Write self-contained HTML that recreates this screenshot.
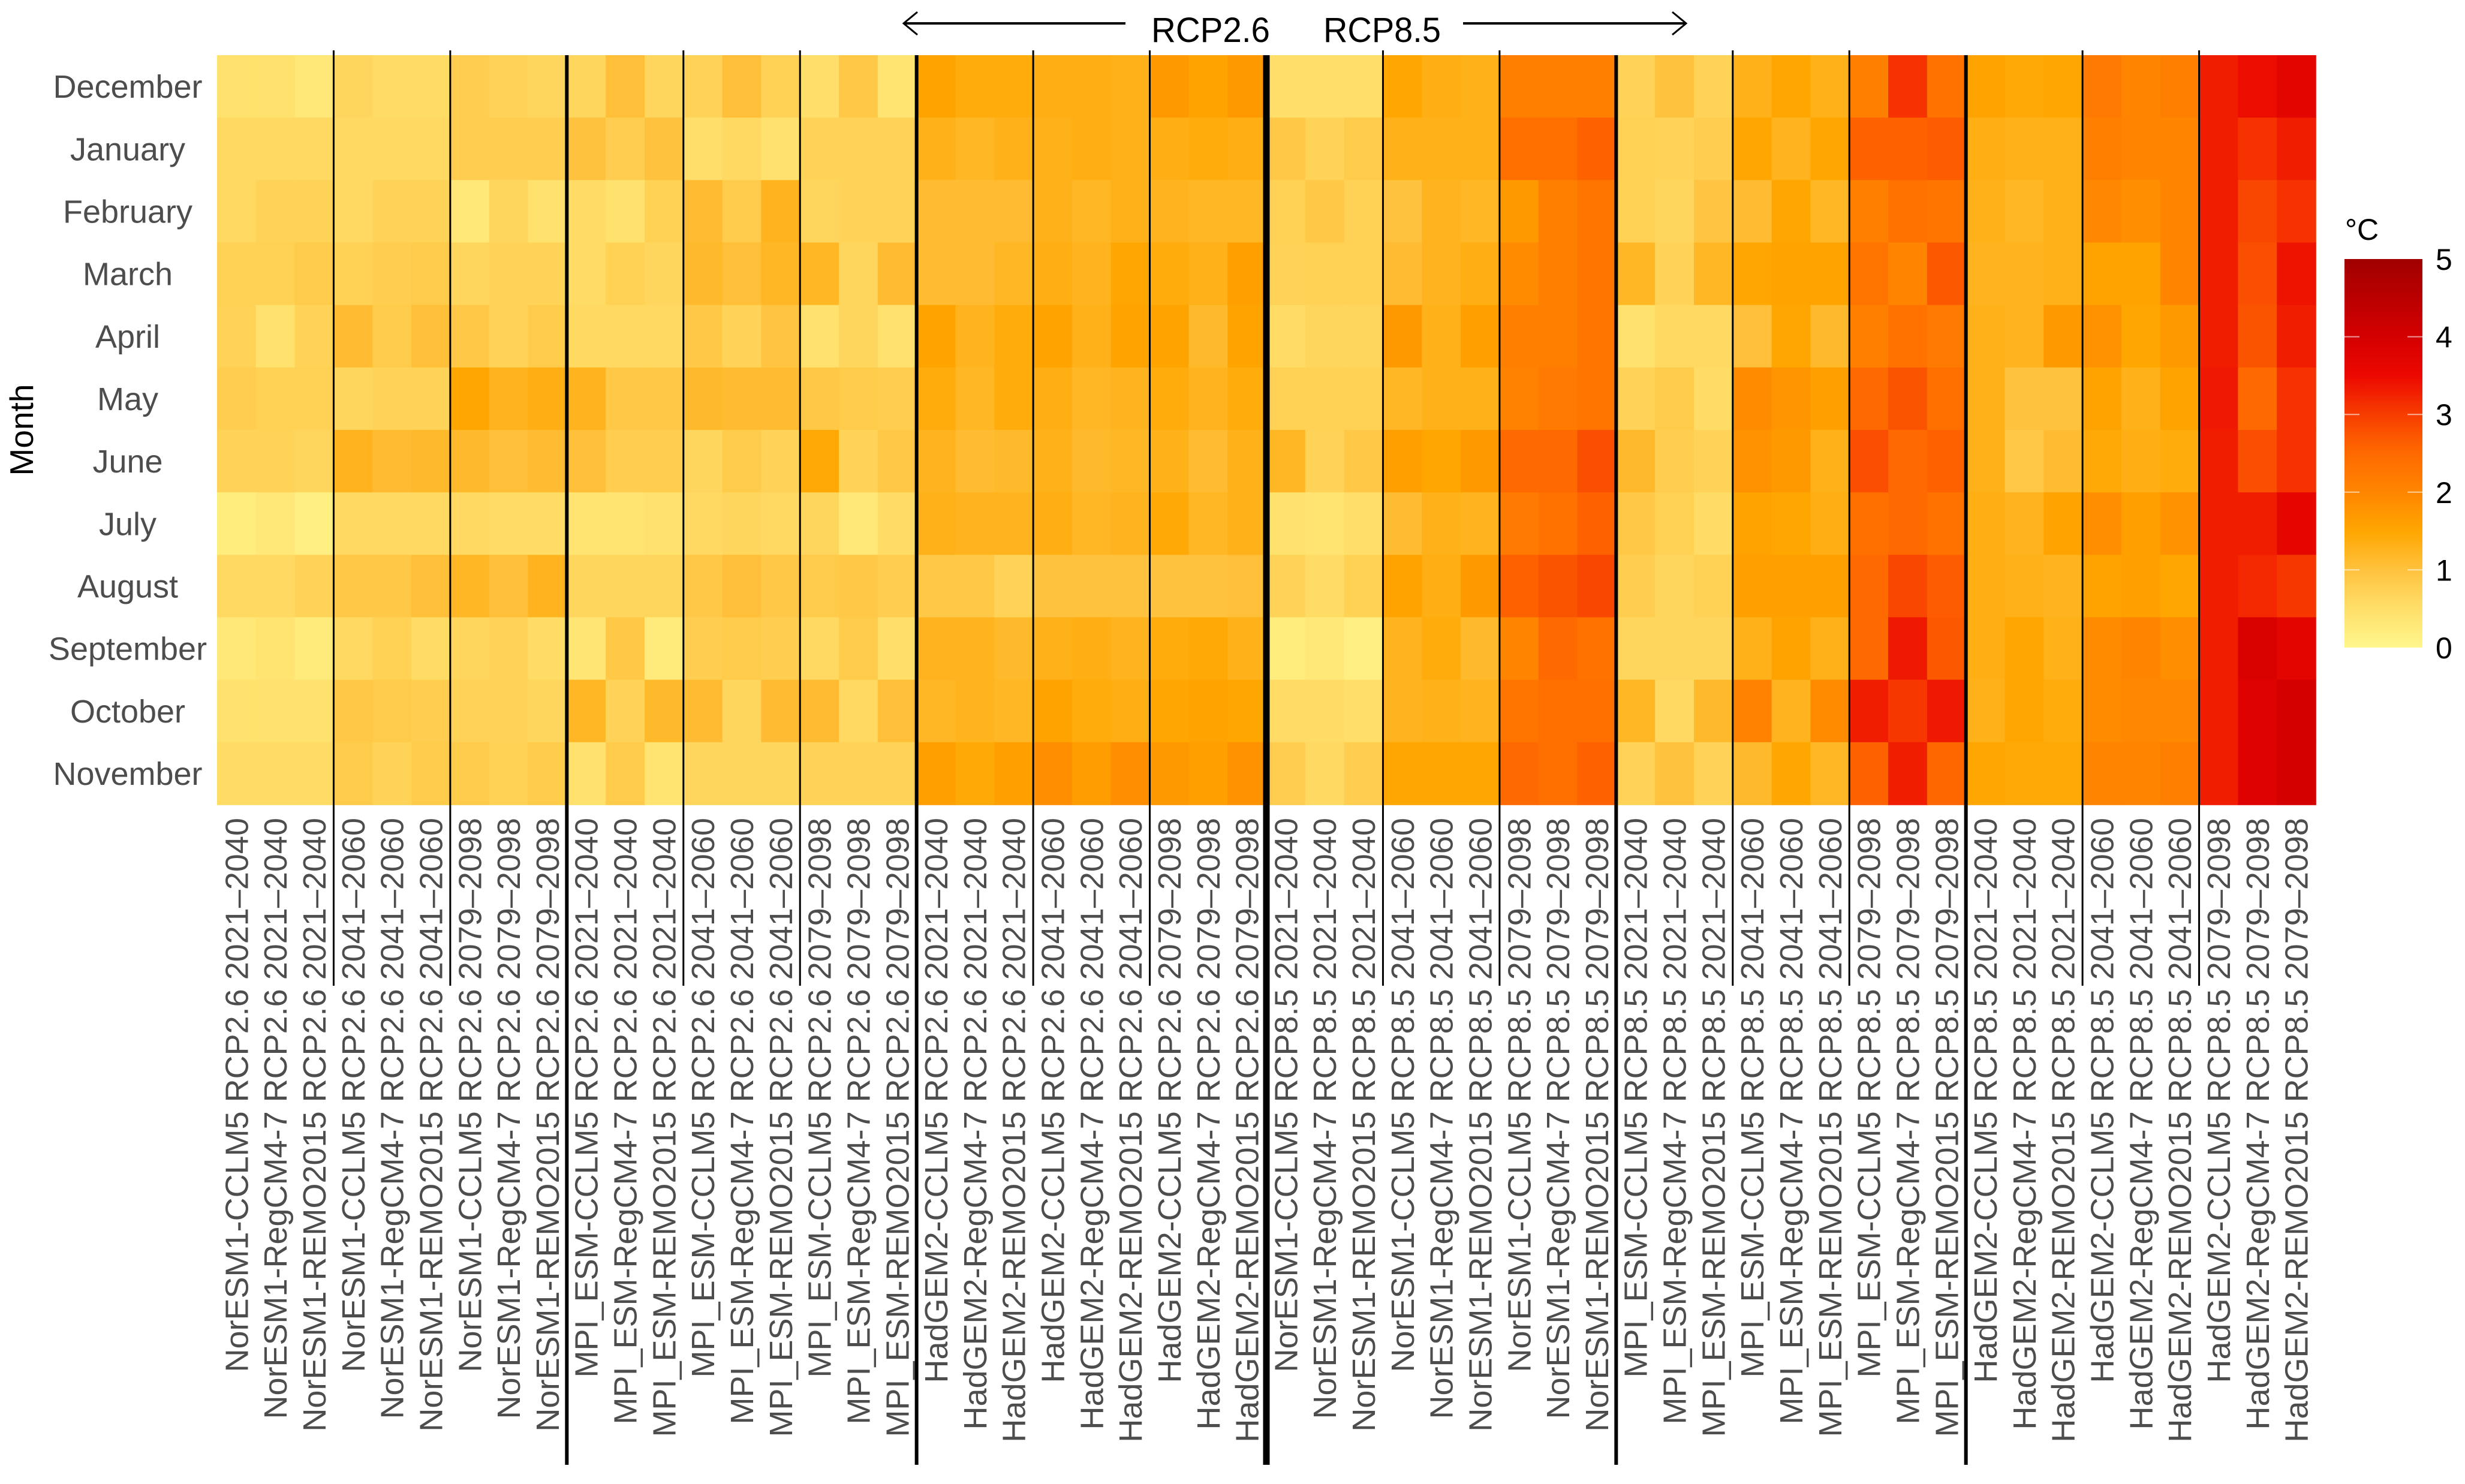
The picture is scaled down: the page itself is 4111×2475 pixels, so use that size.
<!DOCTYPE html>
<html><head><meta charset="utf-8">
<style>
html,body{margin:0;padding:0;background:#fff;}
svg{display:block;font-family:"Liberation Sans",sans-serif;}
</style></head>
<body>
<svg id="chart" width="4111" height="2475" viewBox="0 0 4111 2475" xmlns="http://www.w3.org/2000/svg">
<defs>
<linearGradient id="lg" x1="0" y1="1" x2="0" y2="0">
<stop offset="0" stop-color="#FFF68C"/><stop offset="0.1" stop-color="#FFDF6A"/><stop offset="0.2" stop-color="#FFC23E"/><stop offset="0.3" stop-color="#FFA600"/><stop offset="0.4" stop-color="#FF8500"/><stop offset="0.5" stop-color="#FF6A00"/><stop offset="0.6" stop-color="#F73D00"/><stop offset="0.7" stop-color="#EC0800"/><stop offset="0.8" stop-color="#D40000"/><stop offset="1" stop-color="#A00000"/>
</linearGradient>
</defs>
<g id="cells"></g>
<g id="lines"></g>
<g id="xlabels"></g>
<g id="ylabels"></g>
<text transform="translate(55,717) rotate(-90)" text-anchor="middle" font-size="55" fill="#000">Month</text>
<g>
<line x1="1507" y1="39" x2="1877" y2="39" stroke="#000" stroke-width="4"/>
<polyline points="1530,20 1507,39 1530,58" fill="none" stroke="#000" stroke-width="3"/>
<line x1="2440" y1="39" x2="2812" y2="39" stroke="#000" stroke-width="4"/>
<polyline points="2789,20 2812,39 2789,58" fill="none" stroke="#000" stroke-width="3"/>
<text x="1920" y="70" font-size="58" textLength="198" lengthAdjust="spacingAndGlyphs">RCP2.6</text>
<text x="2207" y="70" font-size="58" textLength="196" lengthAdjust="spacingAndGlyphs">RCP8.5</text>
</g>
<g>
<text x="3911" y="400" font-size="50" fill="#000">°C</text>
<rect x="3910" y="432" width="130" height="648" fill="url(#lg)"/>
<g id="legticks"></g>
</g>
</svg>
<script>
const months = ["December","January","February","March","April","May","June","July","August","September","October","November"];
const rcps = ["RCP2.6","RCP8.5"];
const gcms = ["NorESM1","MPI_ESM","HadGEM2"];
const periods = ["2021–2040","2041–2060","2079–2098"];
const rcms = ["CCLM5","RegCM4-7","REMO2015"];
const legendTicks = [0,1,2,3,4,5];

const decVals = [.45,.45,.3,.65,.55,.55,.8,.7,.65,.65,1.05,.65,.7,1.05,.75,.5,.9,.4,1.55,1.4,1.4,1.35,1.35,1.3,1.7,1.55,1.7, .5,.5,.5,1.5,1.35,1.3,2.1,2.1,2.1,.7,1.0,.7,1.3,1.5,1.3,2.1,3.1,2.35,1.55,1.45,1.5,2.2,2.0,2.1,3.3,3.45,3.7];
const janVals = [.6,.6,.6,.6,.6,.6,.8,.8,.8,1.0,.8,1.0,.5,.6,.45,.7,.7,.7,1.3,1.2,1.3,1.3,1.35,1.3,1.35,1.4,1.35, .9,.7,.85,1.3,1.3,1.3,2.4,2.4,2.6,.75,.7,.8,1.5,1.25,1.5,2.6,2.6,2.65,1.35,1.3,1.3,2.1,2.0,2.0,3.3,3.1,3.3];
const febVals = [.6,.7,.7,.6,.7,.7,.3,.65,.45,.55,.45,.75,1.1,.85,1.25,.65,.7,.7,1.1,1.1,1.1,1.3,1.2,1.3,1.25,1.2,1.2, .75,.9,.75,1.0,1.25,1.2,1.7,2.1,2.3,.75,.65,.95,1.1,1.5,1.2,2.1,2.35,2.3,1.3,1.2,1.3,1.95,1.85,2.0,3.3,2.9,3.1];
const marVals = [.75,.75,.85,.75,.8,.85,.65,.7,.7,.55,.75,.65,1.15,1.05,1.2,1.2,.65,1.1,1.1,1.1,1.2,1.35,1.25,1.5,1.4,1.3,1.6, .7,.75,.75,1.1,1.25,1.35,1.9,2.1,2.3,1.2,.7,1.2,1.5,1.55,1.55,2.3,2.0,2.7,1.25,1.25,1.3,1.55,1.55,2.0,3.3,2.8,3.4];
const aprVals = [.7,.45,.7,1.1,.85,1.05,.9,.7,.85,.6,.6,.6,.9,.7,.95,.45,.65,.45,1.55,1.25,1.4,1.55,1.3,1.55,1.55,1.15,1.55, .55,.65,.65,1.7,1.3,1.6,2.1,2.1,2.3,.45,.6,.6,1.05,1.5,1.15,2.1,2.35,2.2,1.3,1.25,1.7,1.8,1.5,1.7,3.3,2.75,3.3];
const mayVals = [.8,.75,.75,.65,.7,.7,1.5,1.25,1.35,1.25,.9,.9,1.15,1.1,1.1,.9,.85,.8,1.4,1.2,1.4,1.35,1.2,1.25,1.4,1.25,1.4, .75,.75,.75,1.2,1.3,1.3,2.05,2.2,2.3,.7,.85,.55,1.9,1.75,1.6,2.5,2.75,2.4,1.3,1.0,1.0,1.55,1.3,1.55,3.35,2.5,3.1];
const junVals = [.7,.7,.65,1.25,1.1,1.15,1.15,1.05,1.1,1.05,.8,.8,.65,.85,.7,1.45,.7,.9,1.25,1.1,1.15,1.3,1.15,1.2,1.3,1.1,1.3, 1.2,.7,.9,1.6,1.5,1.7,2.5,2.5,2.8,1.15,.8,.7,1.8,1.7,1.3,2.8,2.5,2.6,1.3,.9,1.1,1.45,1.35,1.4,3.3,2.8,3.1];
const julVals = [.2,.3,.15,.6,.6,.6,.6,.55,.55,.4,.4,.45,.6,.65,.6,.65,.3,.55,1.3,1.25,1.25,1.35,1.2,1.25,1.45,1.2,1.3, .45,.4,.5,1.1,1.3,1.25,2.2,2.35,2.6,.9,.75,.55,1.55,1.5,1.35,2.4,2.5,2.35,1.35,1.25,1.55,1.85,1.6,1.8,3.3,3.3,3.65];
const augVals = [.6,.6,.7,.9,.9,1.05,1.2,1.05,1.25,.65,.65,.65,.9,1.05,.9,.85,.9,.8,.9,.9,.7,1.0,1.0,1.0,1.0,1.0,1.05, .7,.55,.75,1.55,1.35,1.7,2.6,2.75,2.9,.8,.65,.75,1.6,1.6,1.6,2.5,2.9,2.65,1.35,1.3,1.25,1.55,1.6,1.5,3.3,3.2,3.05];
const sepVals = [.3,.4,.25,.6,.75,.55,.65,.7,.55,.35,.9,.25,.8,.85,.8,.6,.85,.5,1.25,1.25,1.15,1.3,1.35,1.25,1.4,1.45,1.3, .2,.3,.15,1.25,1.4,1.15,2.0,2.5,2.35,.65,.65,.65,1.3,1.55,1.3,2.5,3.35,2.7,1.35,1.5,1.3,1.9,2.0,1.85,3.3,3.9,3.7];
const octVals = [.45,.45,.45,.9,.85,.8,.7,.7,.65,1.2,.7,1.15,1.1,.65,1.1,1.1,.6,1.05,1.2,1.25,1.2,1.55,1.4,1.35,1.5,1.55,1.5, .55,.55,.5,1.25,1.3,1.25,2.3,2.4,2.4,1.2,.6,1.15,2.05,1.25,1.9,3.3,3.05,3.35,1.3,1.5,1.4,1.9,1.95,1.95,3.3,3.8,4.0];
const novVals = [.55,.55,.55,.85,.7,.85,.85,.75,.85,.45,.85,.4,.65,.65,.65,.7,.7,.7,1.6,1.45,1.6,1.85,1.65,1.85,1.7,1.6,1.8, .8,.6,.8,1.5,1.5,1.5,2.5,2.4,2.6,.7,1.0,.7,1.15,1.5,1.2,2.6,3.3,2.55,1.5,1.45,1.45,2.0,2.0,2.1,3.3,3.8,4.0];
const values = [decVals,janVals,febVals,marVals,aprVals,mayVals,junVals,julVals,augVals,sepVals,octVals,novVals];

const NS="http://www.w3.org/2000/svg";
const X0=362, X1=3862, Y0=92, Y1=1342;
const columns=[];
rcps.forEach(r=>gcms.forEach(g=>periods.forEach(p=>rcms.forEach(m=>columns.push(g+"-"+m+" "+r+" "+p)))));
const nC=columns.length, nR=months.length;
const cw=(X1-X0)/nC, rh=(Y1-Y0)/nR;
const xPos=i=>X0+i*cw;
const yPos=j=>Y0+j*rh;
const stops=[[0,[255,246,140]],[0.5,[255,223,106]],[1,[255,194,62]],[1.5,[255,166,0]],[2,[255,133,0]],[2.5,[255,106,0]],[3,[247,61,0]],[3.5,[236,8,0]],[4,[212,0,0]],[5,[160,0,0]]];
function color(v){
  v=Math.max(0,Math.min(5,v));
  for(let k=0;k<stops.length-1;k++){
    const a=stops[k],b=stops[k+1];
    if(v<=b[0]){const t=(v-a[0])/(b[0]-a[0]);
      const c=a[1].map((x,i)=>Math.round(x+(b[1][i]-x)*t));
      return `rgb(${c[0]},${c[1]},${c[2]})`;}
  }
  return "rgb(160,0,0)";
}
const cells=document.getElementById("cells");
values.forEach((row,j)=>row.forEach((v,i)=>{
  const r=document.createElementNS(NS,"rect");
  r.setAttribute("x",xPos(i));r.setAttribute("y",yPos(j));
  r.setAttribute("width",cw+0.8);r.setAttribute("height",rh+0.8);
  r.setAttribute("fill",color(v));
  
  
  cells.appendChild(r);
}));
const lines=document.getElementById("lines");
for(let i=3;i<nC;i+=3){
  const l=document.createElementNS(NS,"line");
  const x=xPos(i);
  let w=3, y2=1644;
  if(i%27===0){w=11;y2=2443;} else if(i%9===0){w=6;y2=2443;}
  l.setAttribute("x1",x);l.setAttribute("x2",x);
  l.setAttribute("y1",i%9===0?92:84);l.setAttribute("y2",y2);
  l.setAttribute("stroke","#000");l.setAttribute("stroke-width",w);
  
  
  lines.appendChild(l);
}
const xl=document.getElementById("xlabels");
columns.forEach((c,i)=>{
  const t=document.createElementNS(NS,"text");
  const cx=xPos(i)+cw/2;
  t.setAttribute("transform",`translate(${cx+19},1364) rotate(-90)`);
  t.setAttribute("text-anchor","end");
  t.setAttribute("font-size","54");
  t.setAttribute("fill","#4d4d4d");
  t.textContent=c;
  
  
  xl.appendChild(t);
});
const yl=document.getElementById("ylabels");
months.forEach((m,j)=>{
  const t=document.createElementNS(NS,"text");
  t.setAttribute("x",213);t.setAttribute("y",yPos(j)+rh/2+19);
  t.setAttribute("text-anchor","middle");t.setAttribute("font-size","54");
  t.setAttribute("fill","#4d4d4d");
  t.textContent=m;
  
  
  yl.appendChild(t);
});
const lt=document.getElementById("legticks");
legendTicks.forEach(v=>{
  const y=1080-v/5*648;
  const t=document.createElementNS(NS,"text");
  t.setAttribute("x",4062);t.setAttribute("y",y+18);
  t.setAttribute("font-size","50");t.setAttribute("fill","#000");
  t.textContent=v;
  
  
  lt.appendChild(t);
  if(v>0&&v<5){
    [[3910,3935],[4015,4040]].forEach(s=>{
      const l=document.createElementNS(NS,"line");
      l.setAttribute("x1",s[0]);l.setAttribute("x2",s[1]);l.setAttribute("y1",y);l.setAttribute("y2",y);
      l.setAttribute("stroke","#fff");l.setAttribute("stroke-width","2");l.setAttribute("opacity","0.6");
      
      
      lt.appendChild(l);
    });
  }
});
</script>
</body></html>
